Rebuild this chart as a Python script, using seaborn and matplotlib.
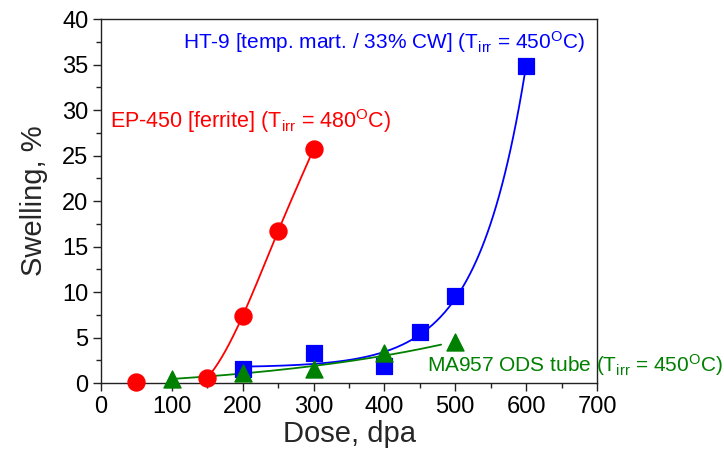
import numpy as np
import pandas as pd
import matplotlib
matplotlib.use("Agg")
import matplotlib.pyplot as plt
from matplotlib.ticker import MultipleLocator
import seaborn as sns

# EP-450 [ferrite], red circles
ep_dose = [50, 150, 200, 250, 300]
ep_swell = [0.1, 0.6, 7.4, 16.7, 25.7]

# HT-9, blue squares
ht_dose = [200, 300, 400, 450, 500, 600]
ht_swell = [1.6, 3.3, 1.9, 5.6, 9.6, 34.9]

# MA957 ODS tube, green triangles
ma_dose = [100, 200, 300, 400, 500]
ma_swell = [0.5, 1.1, 1.6, 3.3, 4.5]


def natural_spline(x, y, n=200):
    x = np.asarray(x, float)
    y = np.asarray(y, float)
    k = len(x)
    h = np.diff(x)
    A = np.zeros((k, k))
    b = np.zeros(k)
    A[0, 0] = A[-1, -1] = 1
    for i in range(1, k - 1):
        A[i, i - 1] = h[i - 1]
        A[i, i] = 2 * (h[i - 1] + h[i])
        A[i, i + 1] = h[i]
        b[i] = 6 * ((y[i + 1] - y[i]) / h[i] - (y[i] - y[i - 1]) / h[i - 1])
    m = np.linalg.solve(A, b)
    xs = np.linspace(x[0], x[-1], n)
    idx = np.clip(np.searchsorted(x, xs) - 1, 0, k - 2)
    x0, x1 = x[idx], x[idx + 1]
    hh = x1 - x0
    t0, t1 = x1 - xs, xs - x0
    ys = (m[idx] * t0 ** 3 + m[idx + 1] * t1 ** 3) / (6 * hh) \
        + (y[idx] / hh - m[idx] * hh / 6) * t0 \
        + (y[idx + 1] / hh - m[idx + 1] * hh / 6) * t1
    return xs, ys


def exp_fit(x, y, x_lo, x_hi, n=200):
    # y = c + a*exp(x/t), grid search over t, least squares for c, a
    x = np.asarray(x, float)
    y = np.asarray(y, float)
    best = None
    for t in np.linspace(20, 400, 800):
        M = np.column_stack([np.ones_like(x), np.exp(x / t)])
        coef, *_ = np.linalg.lstsq(M, y, rcond=None)
        err = np.sum((M @ coef - y) ** 2)
        if best is None or err < best[0]:
            best = (err, t, coef)
    _, t, coef = best
    xs = np.linspace(x_lo, x_hi, n)
    return xs, coef[0] + coef[1] * np.exp(xs / t)


sns.set_style("ticks")
plt.rcParams["font.family"] = ["Liberation Sans", "DejaVu Sans"]
plt.rcParams["mathtext.fontset"] = "custom"
plt.rcParams["mathtext.rm"] = "Liberation Sans"
plt.rcParams["mathtext.it"] = "Liberation Sans"

fig, ax = plt.subplots(figsize=(7.24, 4.55), dpi=100)
fig.subplots_adjust(left=0.1395, right=0.8246, top=0.958, bottom=0.158)

red, blue, green = "#ff0000", "#0000ff", "#008000"

ex, ey = natural_spline(ep_dose, ep_swell)
hx, hy = exp_fit(ht_dose, ht_swell, 200, 600)
mx, my = exp_fit(ma_dose, ma_swell, 100, 480)

sns.lineplot(x=ex, y=ey, color=red, lw=1.3, ax=ax)
sns.lineplot(x=hx, y=hy, color=blue, lw=1.3, ax=ax)
sns.lineplot(x=mx, y=my, color=green, lw=1.3, ax=ax)

sns.scatterplot(x=ep_dose, y=ep_swell, marker="o", s=150, color=red,
                edgecolor=red, ax=ax, zorder=3, clip_on=False)
sns.scatterplot(x=ht_dose, y=ht_swell, marker="s", s=120, color=blue,
                edgecolor=blue, ax=ax, zorder=3, clip_on=False)
sns.scatterplot(x=ma_dose, y=ma_swell, marker="^", s=150, color=green,
                edgecolor=green, ax=ax, zorder=4, clip_on=False)

ax.set_xlim(0, 700)
ax.set_ylim(0, 40)
ax.xaxis.set_major_locator(MultipleLocator(100))
ax.xaxis.set_minor_locator(MultipleLocator(50))
ax.yaxis.set_major_locator(MultipleLocator(5))
ax.yaxis.set_minor_locator(MultipleLocator(2.5))
ax.tick_params(which="both", direction="out", labelsize=17, width=1,
               colors="#222222", labelcolor="black")
ax.tick_params(which="major", length=6, pad=3)
ax.tick_params(which="minor", length=3.5)
for s in ax.spines.values():
    s.set_linewidth(1)
    s.set_color("#222222")
ax.set_xlabel("Dose, dpa", fontsize=21, labelpad=2)
ax.set_ylabel("Swelling, %", fontsize=21, labelpad=10)

ax.text(13, 28.8, r"EP-450 [ferrite] (T$_{\rm irr}$ = 480$^{\rm O}$C)",
        color=red, fontsize=15.5, va="center")
ax.text(116, 37.5, r"HT-9 [temp. mart. / 33% CW] (T$_{\rm irr}$ = 450$^{\rm O}$C)",
        color=blue, fontsize=15, va="center")
ax.text(460, 2.0, r"MA957 ODS tube (T$_{\rm irr}$ = 450$^{\rm O}$C)",
        color=green, fontsize=15, va="center")

fig.savefig("out.png", dpi=100)
